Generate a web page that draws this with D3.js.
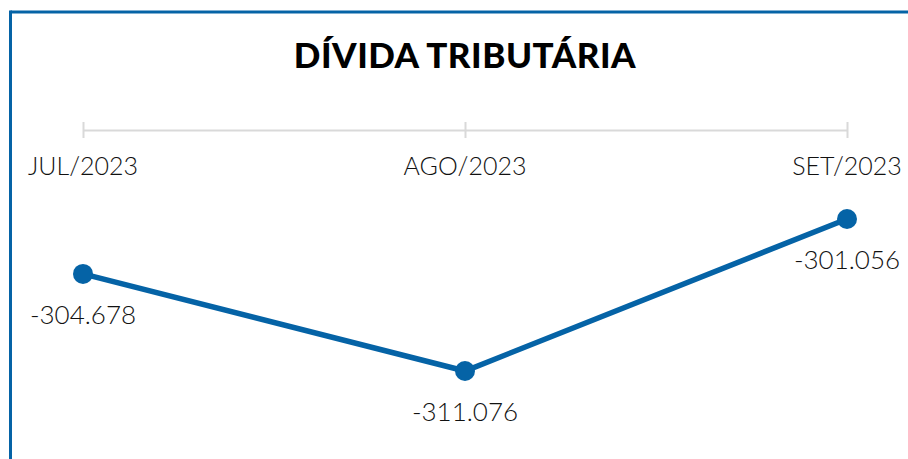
<!DOCTYPE html>
<html>
<head>
<meta charset="utf-8">
<script src="https://cdn.jsdelivr.net/npm/d3@7"></script>
<style>
  body { margin: 0; background: #fff; }
  text { font-family: Lato, "Open Sans", sans-serif; }
</style>
</head>
<body>
<div id="chart"></div>
<script>
// data
const months = ["JUL/2023", "AGO/2023", "SET/2023"];
const values = [-304.678, -311.076, -301.056];
const valueLabels = ["-304.678", "-311.076", "-301.056"];
const title = "DÍVIDA TRIBUTÁRIA";

const width = 908, height = 459;
const blue = "#0563a6";

const svg = d3.select("#chart")
    .append("svg")
    .attr("width", width)
    .attr("height", height);

// frame (top and left border)
svg.append("line")
    .attr("x1", 10.5).attr("x2", width)
    .attr("y1", 12).attr("y2", 12)
    .attr("stroke", blue).attr("stroke-width", 3);
svg.append("line")
    .attr("x1", 10.5).attr("x2", 10.5)
    .attr("y1", 10.5).attr("y2", height)
    .attr("stroke", blue).attr("stroke-width", 3);

// title
svg.append("text")
    .attr("x", 465)
    .attr("y", 68)
    .attr("text-anchor", "middle")
    .attr("font-size", 35)
    .attr("font-weight", 900)
    .attr("letter-spacing", 0.5)
    .attr("fill", "#000")
    .text(title);

// scales
const x = d3.scalePoint()
    .domain(months)
    .range([83, 847]);

const y = d3.scaleLinear()
    .domain([d3.min(values), d3.max(values)])
    .range([371, 219]);

// x axis at top
const xAxis = svg.append("g")
    .attr("transform", "translate(0,130)")
    .call(d3.axisTop(x).tickSizeInner(8).tickSizeOuter(0).tickPadding(0));
xAxis.select(".domain").attr("stroke", "#d9d9d9").attr("stroke-width", 2);
xAxis.selectAll(".tick line")
    .attr("stroke", "#d9d9d9").attr("stroke-width", 2)
    .attr("y1", 8).attr("y2", -8);
xAxis.selectAll(".tick text").remove();

// category labels
svg.selectAll(".month")
    .data(months)
    .enter()
    .append("text")
    .attr("class", "month")
    .attr("x", d => x(d))
    .attr("y", 175)
    .attr("text-anchor", "middle")
    .attr("font-size", 25)
    .attr("font-weight", 300)
    .attr("fill", "#111")
    .text(d => d);

const points = months.map((m, i) => ({ month: m, value: values[i], label: valueLabels[i] }));

// line
svg.append("path")
    .datum(points)
    .attr("fill", "none")
    .attr("stroke", blue)
    .attr("stroke-width", 5.5)
    .attr("d", d3.line().x(d => x(d.month)).y(d => y(d.value)));

// markers
svg.selectAll(".dot")
    .data(points)
    .enter()
    .append("circle")
    .attr("class", "dot")
    .attr("cx", d => x(d.month))
    .attr("cy", d => y(d.value))
    .attr("r", 10)
    .attr("fill", blue);

// value labels
svg.selectAll(".val")
    .data(points)
    .enter()
    .append("text")
    .attr("class", "val")
    .attr("x", d => x(d.month))
    .attr("y", d => y(d.value) + 50)
    .attr("text-anchor", "middle")
    .attr("font-size", 26)
    .attr("font-weight", 300)
    .attr("fill", "#111")
    .text(d => d.label);
</script>
</body>
</html>
